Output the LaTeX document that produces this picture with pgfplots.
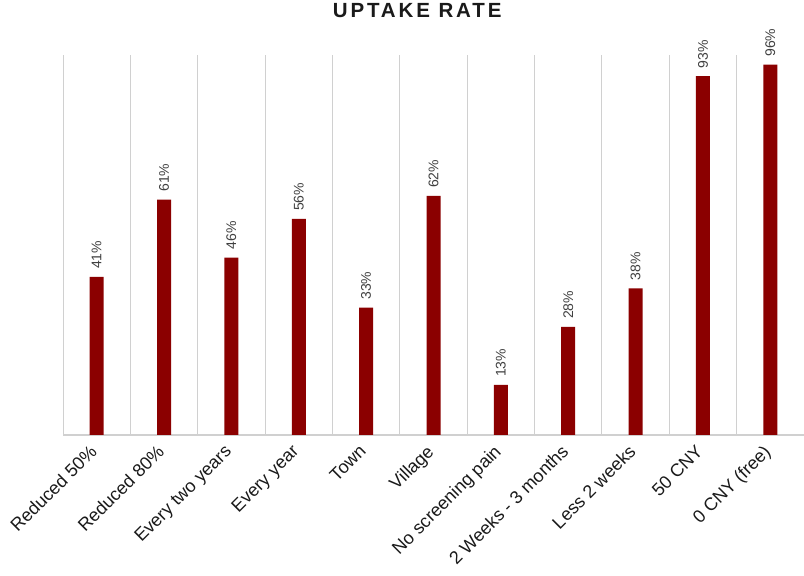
\documentclass[border=0pt]{standalone}
\usepackage{pgfplots}
\pgfplotsset{compat=1.18}
\usepackage{fontspec}
\setmainfont{Liberation Sans}
\newfontfamily\titlefont[LetterSpace=14]{Liberation Sans}
\definecolor{barred}{RGB}{139,0,0}
\definecolor{gridgray}{RGB}{208,208,208}
\definecolor{lblgray}{RGB}{64,64,64}
\definecolor{tickblack}{RGB}{26,26,26}
\begin{document}
\begin{tikzpicture}
\begin{axis}[
  at={(63pt,141pt)}, anchor=south west,
  scale only axis, width=741pt, height=380pt,
  xmin=-0.5, xmax=10.5, ymin=0, ymax=98.5,
  axis x line*=bottom, axis y line=none,
  x axis line style={draw=gridgray, line width=1.2pt, -},
  ytick=\empty,
  xtick={0,...,10},
  xticklabels={Reduced 50\%, Reduced 80\%, Every two years, Every year, Town, Village, No screening pain, 2 Weeks - 3 months, Less 2 weeks, 50 CNY, 0 CNY (free)},
  xticklabel style={anchor=north east, xshift=-8pt, yshift=-7pt, rotate=45, font=\fontsize{18}{20}\selectfont, text=tickblack, inner sep=1pt},
  major tick length=0pt, minor tick length=0pt,
  minor xtick={-0.5,0.5,...,10.5},
  xminorgrids=true,
  minor grid style={draw=gridgray, line width=1pt},
  title={\titlefont\bfseries UPTAKE RATE},
  title style={at={(0.478,1)}, anchor=center, yshift=38pt, font=\fontsize{20.5}{22}\selectfont, text=tickblack},
  clip=false,
]
\addplot[ybar, bar width=14pt, fill=barred, draw=none,
  point meta=y,
  nodes near coords={\pgfmathprintnumber[assume math mode=true]{\pgfplotspointmeta}\%},
  every node near coord/.append style={rotate=90, anchor=west, inner xsep=8pt, inner ysep=0pt, outer sep=0pt, font=\fontsize{14}{16}\selectfont, text=lblgray},
  nodes near coords align={anchor=west},
] coordinates {
(0,41) (1,61) (2,46) (3,56) (4,33) (5,62) (6,13) (7,28) (8,38) (9,93) (10,96)
};
\end{axis}
\pgfresetboundingbox
\useasboundingbox (0,0) rectangle (804pt,576pt);
\end{tikzpicture}
\end{document}
